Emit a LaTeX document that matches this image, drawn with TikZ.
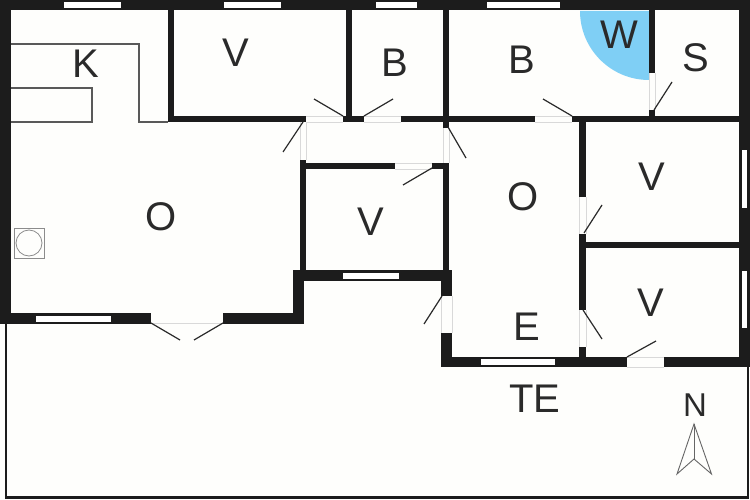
\documentclass[tikz,border=0pt]{standalone}
\usepackage{fontspec}
\setmainfont{Liberation Sans}
\usepackage{xcolor}
\definecolor{wallcol}{HTML}{1C1C1C}
\definecolor{inkcol}{HTML}{2A2A2A}
\definecolor{wetcol}{HTML}{7FCFF5}
\definecolor{papercol}{HTML}{FEFEFC}
\tikzset{
    wall/.style={fill=wallcol},
    pane/.style={fill=white},
    sill/.style={draw=black!15, line width=0.8pt},
    swing/.style={draw=inkcol, line width=1.2pt},
    fixture/.style={draw=black!65, line width=1.3pt},
    roomlabel/.style={text=inkcol, font=\fontsize{40}{40}\selectfont, inner sep=0pt},
}
\begin{document}
\begin{tikzpicture}[x=1pt, y=-1pt]
    \fill[papercol] (0,0) rectangle (750,500);

    % terrace
    \draw[draw=wallcol, line width=2.4pt] (6,323) -- (6,497.5) -- (748,497.5) -- (748,367);

    % wet area
    \fill[wetcol] (649,11) -- (580,11) arc[start angle=180, end angle=270, radius=69pt] -- cycle;

    % outer walls
    \fill[wall] (0,0) rectangle (750,10);
    \fill[wall] (0,0) rectangle (11,324);
    \fill[wall] (739,0) rectangle (750,367);
    \fill[wall] (0,313) rectangle (151,324);
    \fill[wall] (223,313) rectangle (304,324);
    \fill[wall] (293,270) rectangle (304,324);
    \fill[wall] (293,270) rectangle (452,281);
    \fill[wall] (441,270) rectangle (452,296);
    \fill[wall] (441,333) rectangle (452,367);
    \fill[wall] (441,357) rectangle (627,367);
    \fill[wall] (664,357) rectangle (750,367);

    % inner walls
    \fill[wall] (168,10) rectangle (174,122);
    \fill[wall] (346,10) rectangle (352,122);
    \fill[wall] (443,10) rectangle (449,128);
    \fill[wall] (649,10) rectangle (655,73);
    \fill[wall] (649,110) rectangle (655,122);
    \fill[wall] (168,116) rectangle (306,122);
    \fill[wall] (343,116) rectangle (364,122);
    \fill[wall] (401,116) rectangle (535,122);
    \fill[wall] (572,116) rectangle (739,122);
    \fill[wall] (300,160) rectangle (306,270);
    \fill[wall] (300,163) rectangle (395,169);
    \fill[wall] (432,163) rectangle (449,169);
    \fill[wall] (443,163) rectangle (449,270);
    \fill[wall] (579,122) rectangle (586,197);
    \fill[wall] (579,234) rectangle (586,310);
    \fill[wall] (579,347) rectangle (586,357);
    \fill[wall] (586,242) rectangle (739,248);

    % windows
    \fill[pane] (64,2) rectangle (121,8);
    \fill[pane] (224,2) rectangle (281,8);
    \fill[pane] (376,2) rectangle (417,8);
    \fill[pane] (487,2) rectangle (560,8);
    \fill[pane] (742,150) rectangle (747,208);
    \fill[pane] (742,271) rectangle (747,328);
    \fill[pane] (36,316) rectangle (111,322);
    \fill[pane] (343,273) rectangle (399,279);
    \fill[pane] (481,359) rectangle (555,365);

    % door openings
    \draw[sill] (306,116) -- (343,116) (306,122) -- (343,122);
    \draw[sill] (364,116) -- (401,116) (364,122) -- (401,122);
    \draw[sill] (535,116) -- (572,116) (535,122) -- (572,122);
    \draw[sill] (300,122) -- (300,160) (306,122) -- (306,160);
    \draw[sill] (443,128) -- (443,163) (449,128) -- (449,163);
    \draw[sill] (649,73) -- (649,110) (655,73) -- (655,110);
    \draw[sill] (395,163) -- (432,163) (395,169) -- (432,169);
    \draw[sill] (441,296) -- (441,333) (452,296) -- (452,333);
    \draw[sill] (579,197) -- (579,234) (586,197) -- (586,234);
    \draw[sill] (579,310) -- (579,347) (586,310) -- (586,347);
    \draw[sill] (627,357) -- (664,357) (627,367) -- (664,367);
    \draw[sill] (151,323.5) -- (223,323.5);

    % door leaves
    \draw[swing] (303,122) -- (283,152);
    \draw[swing] (343,116) -- (314,99);
    \draw[swing] (364,116) -- (393,99);
    \draw[swing] (448,127) -- (466,158);
    \draw[swing] (572,116) -- (543,99);
    \draw[swing] (654,110) -- (672,82);
    \draw[swing] (432,168) -- (403,185);
    \draw[swing] (442,296) -- (424,324);
    \draw[swing] (584,233) -- (602,205);
    \draw[swing] (583,310) -- (602,339);
    \draw[swing] (627,357) -- (656,341);
    \draw[swing] (151,323) -- (180,340);
    \draw[swing] (223,323) -- (194,340);

    % kitchen
    \draw[fixture] (11,44) -- (139,44) -- (139,122) -- (168,122);
    \draw[fixture] (11,88) -- (92,88) -- (92,122) -- (11,122);
    \draw[draw=black!45, line width=0.8pt] (14,228) rectangle (44,258);
    \draw[draw=black!45, line width=0.8pt] (29,243) circle (13pt);

    % north arrow
    \draw[draw=black!60, line width=0.9pt] (694,424) -- (677,474) -- (694,459) -- (711.5,474) -- cycle;
    \draw[draw=black!60, line width=0.9pt] (694,424) -- (694,459);

    \node[roomlabel] (kitchen) at (86,63.5) {K};
    \node[roomlabel] (bedroomA) at (236,52.5) {V};
    \node[roomlabel] (bathA) at (395,62.5) {B};
    \node[roomlabel] (bathB) at (522,59.5) {B};
    \node[roomlabel] (wet) at (619,34.5) {W};
    \node[roomlabel] (store) at (696,57.5) {S};
    \node[roomlabel] (livingA) at (161,216.5) {O};
    \node[roomlabel] (bedroomB) at (371,221.5) {V};
    \node[roomlabel] (livingB) at (523,196.5) {O};
    \node[roomlabel] (bedroomC) at (652,176.5) {V};
    \node[roomlabel] (bedroomD) at (651,302.5) {V};
    \node[roomlabel] (entry) at (527,326.5) {E};
    \node[roomlabel] (terrace) at (535,398.5) {TE};
    \node[roomlabel, font=\fontsize{33}{33}\selectfont] (north) at (695,405.5) {N};
\end{tikzpicture}
\end{document}
